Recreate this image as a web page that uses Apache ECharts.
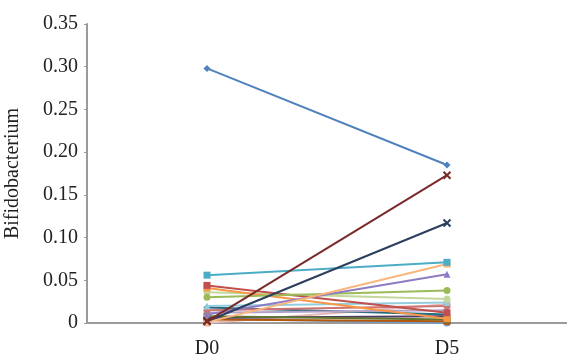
<!DOCTYPE html>
<html><head><meta charset="utf-8">
<script src="https://cdn.jsdelivr.net/npm/echarts@6/dist/echarts.min.js"></script>
<style>html,body{margin:0;padding:0;background:#fff}#c{width:567px;height:363px}</style>
</head><body><div id="c"></div>
<script>
var categories = ['D0', 'D5'];
var yTicks = [0, 0.05, 0.10, 0.15, 0.20, 0.25, 0.30, 0.35];
var s01 = [0.298, 0.185];
var s02 = [0.002, 0.173];
var s03 = [0.002, 0.117];
var s04 = [0.056, 0.071];
var s05 = [0.001, 0.069];
var s06 = [0.010, 0.057];
var s07 = [0.030, 0.038];
var s08 = [0.044, 0.012];
var s09 = [0.041, 0.005];
var s10 = [0.036, 0.028];
var s11 = [0.020, 0.024];
var s12 = [0.015, 0.020];
var s13 = [0.012, 0.015];
var s14 = [0.008, 0.004];
var s15 = [0.006, 0.008];
var s16 = [0.004, 0.002];
var s17 = [0.018, 0.010];
var s18 = [0.005, 0.000];
var s19 = [0.000, 0.022];
var seriesData = [s01,s02,s03,s04,s05,s06,s07,s08,s09,s10,s11,s12,s13,s14,s15,s16,s17,s18,s19];
var colors = ['#4F81BD','#7A2A2A','#2C3E5E','#4BACC6','#F9B57B','#8E7CC3','#9BBB59','#C0504D','#F79646','#C4D79B','#93CDDD','#CD7371','#B3A2C7','#5F7530','#4D3B62','#B65708','#276A7C','#729ACA','#E6B9B8'];
var xPath = 'path://M0,0 L10,10 M10,0 L0,10';
var symbols = ['diamond', xPath, xPath, 'rect', 'rect', 'triangle', 'circle', 'rect', 'rect', 'circle', 'triangle', 'circle', 'triangle', 'rect', 'diamond', 'rect', 'diamond', 'circle', 'rect'];

var series = seriesData.map(function(d, i){
  return {
    type: 'line', data: d, symbol: symbols[i], symbolSize: 7,
    lineStyle: {color: colors[i], width: 2},
    itemStyle: {color: colors[i], borderColor: colors[i], borderWidth: symbols[i] === xPath ? 2 : 0},
    z: 20 - i, animation: false
  };
});

var chart = echarts.init(document.getElementById('c'));
chart.setOption({
  animation: false,
  grid: {left: 87, right: 0, top: 24, bottom: 40, containLabel: false, outerBoundsMode: 'none'},
  xAxis: {
    type: 'category', data: categories, boundaryGap: true,
    axisLine: {lineStyle: {color: '#9a9a9a', width: 2}},
    axisTick: {show: false},
    axisLabel: {color: '#222', fontFamily: 'Liberation Serif', fontSize: 20, margin: 16}
  },
  yAxis: {
    type: 'value', min: 0, max: 0.35, interval: 0.05,
    name: 'Bifidobacterium', nameLocation: 'middle', nameGap: 64,
    nameTextStyle: {color: '#222', fontFamily: 'Liberation Serif', fontSize: 20},
    axisLine: {show: true, lineStyle: {color: '#9a9a9a', width: 2}},
    axisTick: {show: true, length: 3, lineStyle: {color: '#9a9a9a'}},
    splitLine: {show: false},
    axisLabel: {color: '#222', fontFamily: 'Liberation Serif', fontSize: 20, margin: 9,
      formatter: function(v){ return v === 0 ? '0' : v.toFixed(2); }}
  },
  series: series
});
</script></body></html>
